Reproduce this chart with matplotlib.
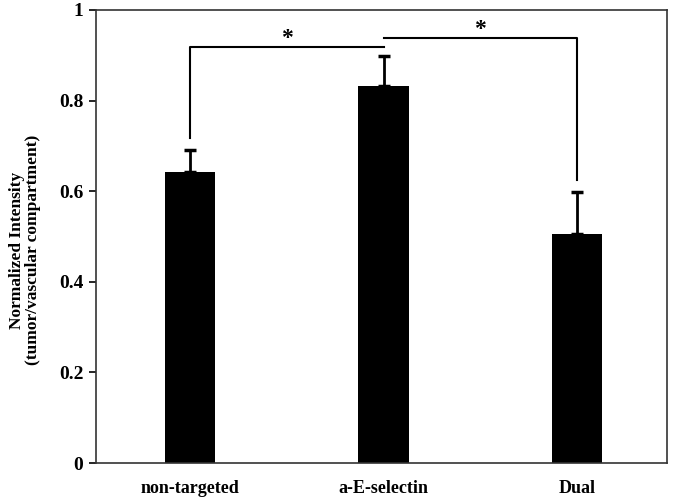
import numpy as np
import matplotlib.pyplot as plt

plt.rcParams['font.family'] = ['Liberation Serif', 'DejaVu Serif']
plt.rcParams['font.weight'] = 'bold'
plt.rcParams['axes.labelweight'] = 'bold'

groups = ['non-targeted', 'a-E-selectin', 'Dual']
means = [0.642, 0.832, 0.505]
errs = [0.048, 0.066, 0.093]

# significance brackets: (left idx, right idx, height, left leg bottom, right leg bottom)
sig = [(0, 1, 0.918, 0.717, 0.918), (1, 2, 0.938, 0.938, 0.625)]

fig = plt.figure(figsize=(6.75, 4.99), dpi=100)
ax = fig.add_axes([96/675, 36/499, 571/675, 453/499])

x = np.arange(len(groups))
ax.bar(x, means, width=0.26, color='black')
ax.errorbar(x, means, yerr=[np.zeros(len(errs)), errs], fmt='none',
            ecolor='black', elinewidth=2, capsize=4, capthick=2.5)

for a, b, h, la, lb in sig:
    ax.plot([a, a, b, b], [la, h, h, lb], color='black', lw=1.5)
    ax.text((a + b) / 2, h - 0.004, '*', ha='center', va='bottom', fontsize=17)

ax.set_xlim(-0.486, 2.465)
ax.set_ylim(0, 1)
ax.set_yticks([0, 0.2, 0.4, 0.6, 0.8, 1])
ax.set_yticklabels(['0', '0.2', '0.4', '0.6', '0.8', '1'], fontsize=14)
ax.set_xticks(x)
ax.set_xticklabels(groups, fontsize=13)
ax.tick_params(axis='x', length=0, pad=12)
ax.tick_params(axis='y', direction='out', length=5, width=1.2, pad=4)
for s in ax.spines.values():
    s.set_linewidth(1.2)
    s.set_color('#333333')
ax.set_ylabel('Normalized Intensity\n(tumor/vascular compartment)', fontsize=12.5,
              linespacing=1.05)
ax.yaxis.set_label_coords(-0.096, 0.47)

fig.savefig('out.png', dpi=100)
